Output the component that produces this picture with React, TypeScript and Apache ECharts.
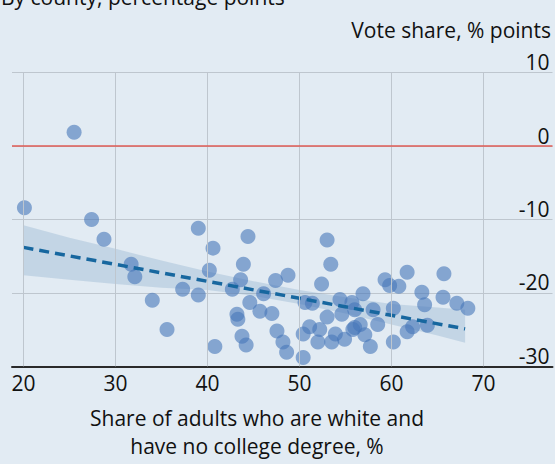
import React, { useEffect, useRef } from "react";
import * as echarts from "echarts";

// Scatter points: [share of adults white w/o college degree %, vote share change % points]
const countyX = [
  25.5, 20.1, 27.4, 28.75, 31.7, 32.1, 34.0, 35.6, 37.3, 39.0, 39.0, 40.6, 40.2, 40.8,
  44.4, 43.9, 43.6, 42.7, 44.6, 43.2, 43.3, 43.75, 44.2, 45.7, 46.1, 47.0, 47.4, 47.55,
  48.2, 48.6, 48.75, 53.0, 53.4, 52.4, 50.6, 51.4, 50.4, 51.1, 52.2, 50.4, 52.0, 53.9,
  53.5, 54.9, 53.0, 54.6, 54.4, 56.0, 56.0, 56.9, 57.1, 57.7, 58.0, 58.5, 59.3, 59.8,
  60.8, 60.2, 60.2, 61.7, 61.7, 62.3, 63.3, 63.6, 63.9, 65.7, 65.6, 67.1, 68.3, 55.7,
  56.6, 55.8,
];
const countyY = [
  1.9, -8.4, -10.0, -12.7, -16.1, -17.8, -21.0, -25.0, -19.5, -20.3, -11.2, -13.9, -16.9, -27.3,
  -12.3, -16.1, -18.2, -19.5, -21.3, -22.9, -23.6, -25.9, -27.1, -22.5, -20.1, -22.8, -18.3, -25.2,
  -26.7, -28.1, -17.6, -12.8, -16.1, -18.8, -21.3, -21.4, -25.6, -24.6, -25.0, -28.8, -26.7, -25.6,
  -26.7, -26.3, -23.3, -22.9, -20.9, -22.3, -24.7, -20.1, -25.7, -27.3, -22.3, -24.3, -18.2, -19.0,
  -19.1, -22.1, -26.7, -17.2, -25.3, -24.6, -19.9, -21.6, -24.4, -17.4, -20.6, -21.4, -22.1, -21.3,
  -24.3, -25.0,
];

// Fitted trend line (endpoints)
const trendX = [20, 68];
const trendY = [-13.8, -24.9];

// Confidence band
const bandX = [20, 25, 30, 35, 40, 45, 50, 55, 60, 65, 68];
const bandLow = [-17.6, -18.2, -18.8, -19.3, -19.6, -20.4, -21.5, -22.8, -24.3, -25.8, -26.8];
const bandHigh = [-10.8, -12.5, -14.0, -15.6, -17.1, -18.4, -19.6, -20.6, -21.5, -22.0, -22.3];

const xTicks = [20, 30, 40, 50, 60, 70];
const zeroLine = 0;

const subtitle = "By county, percentage points";
const yTitle = "Vote share, % points";
const xTitle1 = "Share of adults who are white and";
const xTitle2 = "have no college degree, %";

const FONT = "Open Sans";
const FS = 21;
const BG = "#e2ebf3";
const GRID = "#bec6ce";
const RED = "#df5b55";
const TEXT = "#111111";

export default function App() {
  const ref = useRef<HTMLDivElement>(null);
  useEffect(() => {
    document.body.style.margin = "0";
    if (!ref.current) return;
    const chart = echarts.init(ref.current, undefined, { renderer: "svg" });
    const points = countyX.map((x, i) => [x, countyY[i]]);
    const font = `${FS}px "${FONT}"`;
    const option: any = {
      animation: false,
      backgroundColor: BG,
      textStyle: { fontFamily: FONT },
      grid: { left: 12, right: 2.5, top: 72.7, bottom: 97.7, containLabel: false },
      xAxis: {
        type: "value",
        min: 18.75,
        max: 77.5,
        axisLine: { show: true, onZero: false, lineStyle: { color: "#2a2a2a", width: 2 } },
        axisTick: { show: false },
        splitLine: { show: false },
        axisLabel: {
          customValues: xTicks,
          color: TEXT,
          fontSize: FS,
          fontFamily: FONT,
          margin: 6,
        },
      },
      yAxis: {
        type: "value",
        position: "right",
        min: -30,
        max: 10,
        interval: 10,
        axisLine: { show: false },
        axisTick: { show: false },
        splitLine: { show: true, lineStyle: { color: GRID, width: 1 } },
        axisLabel: {
          inside: true,
          verticalAlign: "bottom",
          margin: 3,
          color: TEXT,
          fontSize: FS,
          fontFamily: FONT,
        },
      },
      graphic: [
        {
          type: "text",
          x: 1,
          y: -3,
          style: { text: subtitle, fill: TEXT, font, textAlign: "left", textVerticalAlign: "middle" },
        },
        {
          type: "text",
          x: 551,
          y: 30,
          style: { text: yTitle, fill: TEXT, font, textAlign: "right", textVerticalAlign: "middle" },
        },
        {
          type: "text",
          x: 257,
          y: 418,
          style: { text: xTitle1, fill: TEXT, font, textAlign: "center", textVerticalAlign: "middle" },
        },
        {
          type: "text",
          x: 257,
          y: 446,
          style: { text: xTitle2, fill: TEXT, font, textAlign: "center", textVerticalAlign: "middle" },
        },
      ],
      series: [
        {
          type: "scatter",
          data: [],
          z: 1,
          silent: true,
          markLine: {
            silent: true,
            symbol: ["none", "none"],
            label: { show: false },
            lineStyle: { color: GRID, width: 1, type: "solid" },
            data: [
              ...xTicks.map((v) => ({ xAxis: v })),
              { yAxis: zeroLine, lineStyle: { color: RED, width: 1.6, type: "solid" } },
            ],
          },
        },
        {
          type: "custom",
          z: 2,
          silent: true,
          data: [[bandX[0], bandLow[0]]],
          renderItem: (_params: any, api: any) => {
            const pts: number[][] = [];
            bandX.forEach((x, i) => pts.push(api.coord([x, bandHigh[i]])));
            for (let i = bandX.length - 1; i >= 0; i--) pts.push(api.coord([bandX[i], bandLow[i]]));
            return {
              type: "polygon",
              shape: { points: pts },
              style: { fill: "rgba(110,150,190,0.26)" },
            };
          },
        },
        {
          type: "scatter",
          z: 3,
          symbolSize: 15,
          data: points,
          itemStyle: { color: "#4677b9", opacity: 0.6 },
        },
        {
          type: "line",
          z: 4,
          showSymbol: false,
          data: trendX.map((x, i) => [x, trendY[i]]),
          lineStyle: { color: "#17679f", width: 3.5, type: [10, 6] },
        },
      ],
    };
    chart.setOption(option);
    return () => chart.dispose();
  }, []);
  return <div ref={ref} style={{ width: 555, height: 464 }} />;
}
